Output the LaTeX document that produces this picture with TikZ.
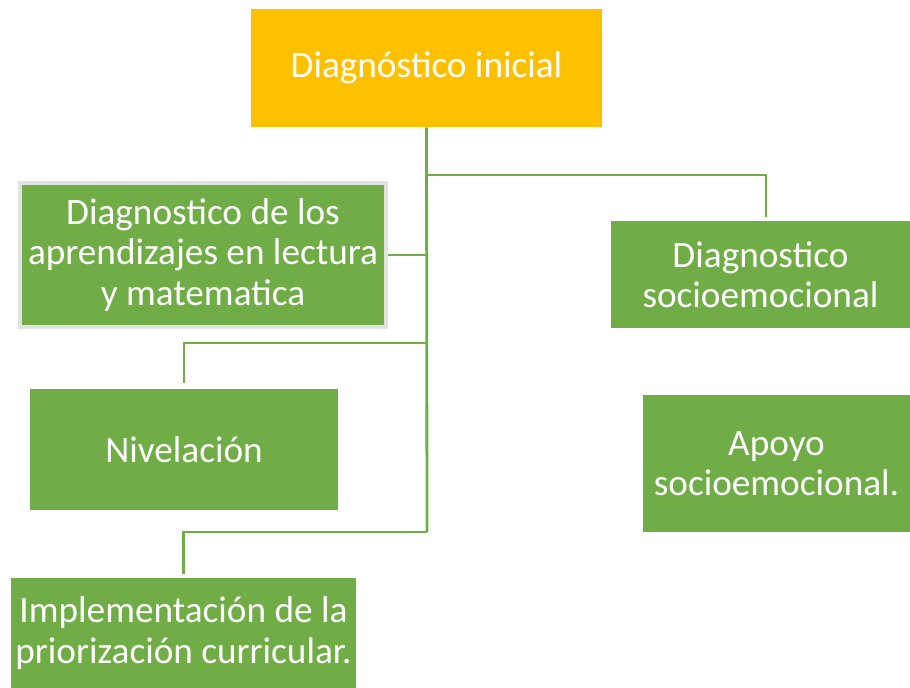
\documentclass[tikz,border=0pt]{standalone}
\usepackage{fontspec}
\setmainfont{Carlito}
\usepackage{xcolor}
\definecolor{verde}{HTML}{70AD47}
\definecolor{oro}{HTML}{FFC000}
\definecolor{borde}{HTML}{E2E2E2}

\tikzset{
  caja/.style={fill=verde,text=white,align=center,inner sep=0pt,
    font=\fontsize{21.2}{23}\selectfont},
  link/.style={draw=verde,line width=1.6pt}
}

\begin{document}
\begin{tikzpicture}[x=0.02cm,y=-0.02cm]
 \useasboundingbox (0,0) rectangle (910,688);
 % cajas
 \node[caja,fill=oro,minimum width=7.02cm,minimum height=2.36cm] (ini) at (426.5,68) {Diagnóstico inicial};
 \node[caja,draw=borde,line width=2.2pt,minimum width=7.32cm,minimum height=2.88cm] (apr) at (203,255) {Diagnostico de los\\aprendizajes en lectura\\y matematica};
 \node[caja,minimum width=5.98cm,minimum height=2.14cm] (soc) at (760.5,274.5) {Diagnostico\\socioemocional};
 \node[caja,minimum width=6.16cm,minimum height=2.42cm] (niv) at (184,449.5) {Nivelación};
 \node[caja,minimum width=5.34cm,minimum height=2.74cm] (apo) at (776.5,463.5) {Apoyo\\socioemocional.};
 \node[caja,minimum width=6.9cm,minimum height=2.2cm] (imp) at (183.5,633) {Implementación de la\\priorización curricular.};
 % conectores
 \coordinate (r1) at (427,175);
 \coordinate (r2) at (427,343);
 \coordinate (r3) at (427,532);
 \draw[link] (ini.south) -- (r3);
 \draw[link,shorten >=2.3pt] (r1) -| ([xshift=0.11cm]soc.north);
 \draw[link] (apr.east) -- (apr.east -| ini.south);
 \draw[link,shorten >=3pt] (r2) -| (niv.north);
 \draw[link,shorten >=2.3pt] (r3) -| (imp.north);
\end{tikzpicture}
\end{document}
